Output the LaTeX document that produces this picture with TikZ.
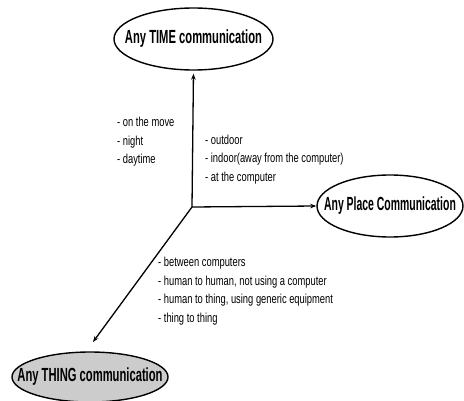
\documentclass[tikz,border=0pt]{standalone}
\usepackage{fontspec}
\setmainfont{Liberation Sans}
\newfontfamily\titlefont[FakeStretch=0.59]{Liberation Sans}
\newfontfamily\placefont[FakeStretch=0.55]{Liberation Sans}
\newfontfamily\listfont[FakeStretch=0.72]{Liberation Sans}
\usetikzlibrary{arrows.meta,shapes.geometric}
\begin{document}
\begin{tikzpicture}[x=1pt,y=-1pt,
  bubble/.style={ellipse,draw,line width=1.4pt,inner sep=0pt},
  bubbletext/.style={font=\titlefont\bfseries\fontsize{19}{22}\selectfont},
  link/.style={line width=1.3pt,-{Stealth[length=6pt,width=4.5pt]}},
  items/.style={align=left,inner sep=0pt,anchor=west,font=\listfont\fontsize{13}{18.5}\selectfont}]
\useasboundingbox (0,0) rectangle (464,401);

\coordinate (O) at (192,207);
\node[bubble,bubbletext,minimum width=159pt,minimum height=62pt] (time) at (193.5,39)
  {\makebox[0pt]{Any TIME communication}};
\node[bubble,minimum width=146pt,minimum height=62pt,font=\placefont\bfseries\fontsize{19}{22}\selectfont] (place) at (390,206)
  {\makebox[0pt]{Any Place Communication}};
\node[bubble,bubbletext,fill=gray!40,minimum width=156pt,minimum height=50pt] (thing) at (90,377)
  {\makebox[0pt]{Any THING communication}};
\coordinate (thingtip) at (93,342);

\draw[link,shorten >=3pt] (O) -- (time.south);
\draw[link] (O) -- (place.west);
\draw[link] (O) -- (thingtip);

\node[items] (timelist) at (117,142) {- on the move\\- night\\- daytime};
\node[items] (placelist) at (205,159.5) {- outdoor\\- indoor(away from the computer)\\- at the computer};
\node[items] (thinglist) at (158,291) {- between computers\\- human to human, not using a computer\\- human to thing, using generic equipment\\- thing to thing};
\end{tikzpicture}
\end{document}
